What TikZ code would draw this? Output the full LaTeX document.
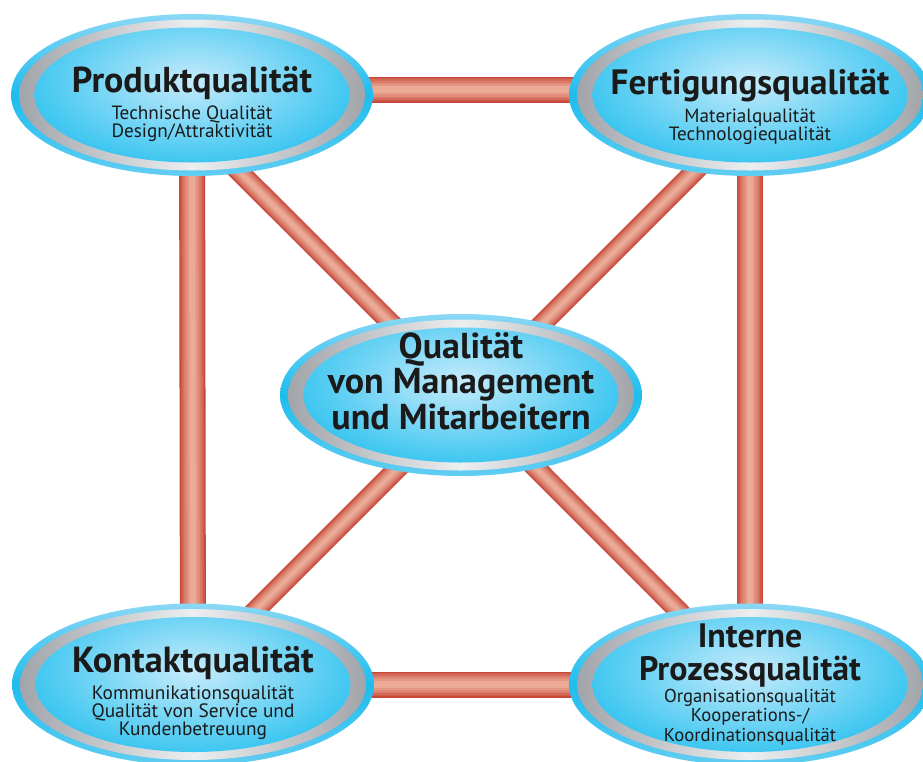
\documentclass[tikz,border=0pt]{standalone}
\usepackage{fontspec}
\setmainfont{PT Sans}
\usetikzlibrary{shapes.geometric,calc}
\definecolor{tubeD}{HTML}{C84739}
\definecolor{tubeL}{HTML}{EAAA95}
\definecolor{ringC}{HTML}{1DBDEE}
\definecolor{ringT}{HTML}{8AD8F5}
\definecolor{ringB}{HTML}{62CDF2}
\definecolor{silD}{HTML}{9EA1A6}
\definecolor{silL}{HTML}{ECEEF0}
\definecolor{inL}{HTML}{C6EBFB}
\definecolor{inD}{HTML}{1FBEEE}
\definecolor{txt}{HTML}{1A1A1A}
\newcommand\tline[3]{\makebox[0pt]{\raisebox{#1}[0pt][0pt]{#2#3}}}
\newcommand\ttlf[1]{\fontsize{#1}{#1}\selectfont\bfseries}
\newcommand\subf[1]{\fontsize{#1}{#1}\selectfont}
\pgfdeclarelayer{back}
\pgfdeclarelayer{bg}
\pgfsetlayers{back,bg,main}
\tikzset{
  tube/.style={line width=#1, draw=tubeD,
    postaction={draw=tubeD!82!tubeL, line width=0.90*#1},
    postaction={draw=tubeD!64!tubeL, line width=0.79*#1},
    postaction={draw=tubeD!47!tubeL, line width=0.67*#1},
    postaction={draw=tubeD!32!tubeL, line width=0.54*#1},
    postaction={draw=tubeD!18!tubeL, line width=0.40*#1},
    postaction={draw=tubeL, line width=0.24*#1}},
  qnode/.style={ellipse, minimum width=271.5pt, minimum height=121.5pt,
    inner sep=0pt, text=txt,
    top color=ringT, bottom color=ringB, middle color=ringC,
    path picture={
      \shade[left color=silD, right color=silD, middle color=silL]
        (path picture bounding box.center) ellipse [x radius=173, y radius=75.5];
      \clip (path picture bounding box.center) ellipse [x radius=157.5, y radius=67.5];
      \shade[inner color=inL, outer color=inD]
        ($(path picture bounding box.center)+(0,-14)$) ellipse [x radius=200, y radius=100];
    }}
}
\begin{document}
\begin{tikzpicture}[x=0.75pt,y=-0.75pt]
\useasboundingbox (0,0) rectangle (923,761);
\clip (0,0) rectangle (923,761);
\begin{pgfonlayer}{back}
\fill[white] (0,0) rectangle (923,761);
\end{pgfonlayer}
\node[qnode] (tl) at (192,95) {%
  \tline{2.25pt}{\ttlf{27}}{Produktqualität}%
  \tline{-18pt}{\subf{14.4}}{Technische Qualität}%
  \tline{-31.5pt}{\subf{14.4}}{Design/Attraktivität}};
\node[qnode] (tr) at (750,95) {%
  \tline{0.75pt}{\ttlf{26.4}}{Fertigungsqualität}%
  \tline{-20.25pt}{\subf{14.4}}{Materialqualität}%
  \tline{-33.75pt}{\subf{14.4}}{Technologiequalität}};
\node[qnode] (bl) at (193,684.5) {%
  \tline{9pt}{\ttlf{27.2}}{Kontaktqualität}%
  \tline{-11.25pt}{\subf{14.5}}{Kommunikationsqualität}%
  \tline{-24.75pt}{\subf{14.5}}{Qualität von Service und}%
  \tline{-38.25pt}{\subf{14.5}}{Kundenbetreuung}};
\node[qnode] (br) at (750,684.5) {%
  \tline{27.75pt}{\ttlf{25.4}}{Interne}%
  \tline{3pt}{\ttlf{25.4}}{Prozessqualität}%
  \tline{-13.5pt}{\subf{14}}{Organisationsqualität}%
  \tline{-27.75pt}{\subf{14}}{Kooperations-/}%
  \tline{-42.75pt}{\subf{14}}{Koordinationsqualität}};
\node[qnode] (c) at (461,395) {%
  \tline{27.75pt}{\ttlf{27}}{Qualität}%
  \tline{1.5pt}{\ttlf{27}}{von Management}%
  \tline{-25.5pt}{\ttlf{27}}{und Mitarbeitern}};
\coordinate (x) at (467,399);
\coordinate (dtl) at (200,132.5);
\coordinate (dtr) at (730,136);
\coordinate (dbl) at (205,661);
\coordinate (dbr) at (740,672.5);
\begin{pgfonlayer}{bg}
\draw[tube=19.5pt] ([yshift=4.1pt]tl.center) -- ([yshift=4.1pt]tr.center);
\draw[tube=19.5pt] (bl.center) -- (br.center);
\draw[tube=19.5pt] (tl.center) -- (bl.center);
\draw[tube=19.5pt] (tr.center) -- (br.center);
\draw[tube=15pt] (dtl) -- (x);
\draw[tube=15pt] (dtr) -- (x);
\draw[tube=15pt] (x) -- (dbl);
\draw[tube=15pt] (x) -- (dbr);
\end{pgfonlayer}
\end{tikzpicture}
\end{document}
